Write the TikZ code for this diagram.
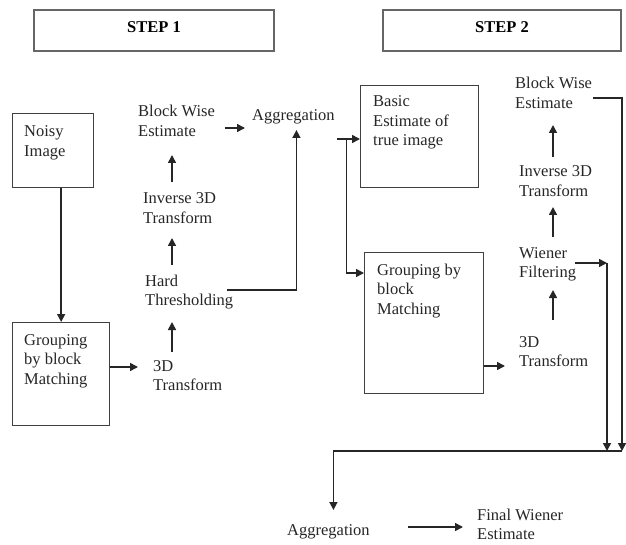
\documentclass[tikz,border=0pt]{standalone}
\usepackage{fontspec}
\setmainfont{Liberation Serif}
\usetikzlibrary{arrows.meta, calc}

\begin{document}
\begin{tikzpicture}[x=1pt, y=-1pt,
    font=\fontsize{16.5}{19.5}\selectfont,
    stepbox/.style={draw=black!60, line width=1.5pt, minimum width=240pt, minimum height=41pt,
                    inner sep=0pt, text depth=6pt, font=\fontsize{16.5}{19.5}\selectfont\bfseries},
    blk/.style={draw=black!75, line width=1.3pt, anchor=north west, inner sep=0pt},
    lbl/.style={anchor=base west, align=left, inner sep=0pt, text=black!85},
    arr/.style={-{Triangle[length=8pt, width=8pt]}, line width=1.6pt, black!85},
  ]
  \useasboundingbox (0,0) rectangle (626,545);

  % headers
  \node[stepbox] (step1) at (154,30.5) {STEP 1};
  \node[stepbox, minimum width=238pt] (step2) at (502,30.5) {STEP 2};

  % boxes (base of a label = its last line)
  \node[blk, minimum width=81pt, minimum height=74pt] (noisy) at (12,113) {};
  \node[blk, minimum width=97pt, minimum height=103pt] (grp1) at (12,322) {};
  \node[blk, minimum width=118pt, minimum height=102pt] (basic) at (360,85) {};
  \node[blk, minimum width=119pt, minimum height=141pt] (grp2) at (364,252) {};
  \node[lbl] (noisytxt) at ($(noisy.north west)+(12,43.5)$) {Noisy\\Image};
  \node[lbl] (grp1txt) at ($(grp1.north west)+(12,62)$) {Grouping\\by block\\Matching};
  \node[lbl] (basictxt) at ($(basic.north west)+(13,61)$) {Basic\\Estimate of\\true image};
  \node[lbl] (grp2txt) at ($(grp2.north west)+(13,62)$) {Grouping by\\block\\Matching};

  % step 1 chain
  \node[lbl] (bwe1) at (138,136.5) {Block Wise\\Estimate};
  \node[lbl] (inv1) at (143,223.5) {Inverse 3D\\Transform};
  \node[lbl] (hard1) at (145,305.5) {Hard\\Thresholding};
  \node[lbl] (tr1) at (153,390.5) {3D\\Transform};
  \node[lbl] (agg1) at (252,121) {Aggregation};

  % step 2 chain
  \node[lbl] (bwe2) at (515,108.5) {Block Wise\\Estimate};
  \node[lbl] (inv2) at (519,196.5) {Inverse 3D\\Transform};
  \node[lbl] (wf2) at (519,277.5) {Wiener\\Filtering};
  \node[lbl] (tr2) at (519,366.5) {3D\\Transform};
  \node[lbl] (agg2) at (287,535) {Aggregation};
  \node[lbl] (final) at (477,539.5) {Final Wiener\\Estimate};

  \coordinate (col1) at (172,0);
  \coordinate (col2) at (553,0);
  \coordinate (col3) at (607,0);
  \coordinate (join) at (622,451);

  % step 1 arrows
  \draw[arr] (noisy.south -| grp1.north) -- (grp1.north);
  \coordinate (g1out) at ($(grp1.north east)+(0,45)$);
  \draw[arr] (g1out) -- ($(g1out -| tr1.west)+(-15,0)$);
  \draw[arr] ($(tr1.base -| col1)+(0,-38.5)$) -- ($(hard1.base -| col1)+(0,16.5)$);
  \draw[arr] ($(hard1.base -| col1)+(0,-40.5)$) -- ($(inv1.base -| col1)+(0,14.5)$);
  \draw[arr] ($(inv1.base -| col1)+(0,-41.5)$) -- ($(bwe1.base -| col1)+(0,18.5)$);
  \coordinate (bwe1out) at ($(bwe1.base east)+(9.5,-8.5)$);
  \draw[arr] (bwe1out) -- ($(bwe1out -| agg1.west)+(-7,0)$);
  \draw[arr] ($(hard1.base east)+(-6,-15.5)$) -| ($(agg1.base)+(3,9)$);
  \coordinate (aggout) at ($(agg1.base east)+(2.5,18)$);
  \draw[arr] (aggout) -- (aggout -| basic.west);
  \draw[arr] ($(aggout)+(9,0)$) |- ($(grp2.north west)+(0,21)$);

  % step 2 arrows
  \coordinate (g2out) at ($(grp2.north east)+(0,114)$);
  \draw[arr] (g2out) -- ($(g2out -| tr2.west)+(-14,0)$);
  \draw[arr] ($(tr2.base -| col2)+(0,-46.5)$) -- ($(wf2.base -| col2)+(0,12.5)$);
  \draw[arr] ($(wf2.base -| col2)+(0,-40.5)$) -- ($(inv2.base -| col2)+(0,10.5)$);
  \draw[arr] ($(inv2.base -| col2)+(0,-39.5)$) -- ($(bwe2.base -| col2)+(0,16.5)$);
  \coordinate (wfout) at ($(wf2.base east)+(-1,-14.5)$);
  \draw[arr] (wfout) -- (wfout -| col3);
  \draw[arr] (wfout -| col3) -- (col3 |- join);
  \draw[arr] ($(bwe2.base east)+(1,-10.5)$) -| (join);
  \draw[arr] (join) -| ($(agg2.base)+(5,-25)$);
  \coordinate (agg2out) at ($(agg2.base east)+(38.5,-8)$);
  \draw[arr] (agg2out) -- ($(agg2out -| final.west)+(-14,0)$);
\end{tikzpicture}
\end{document}
